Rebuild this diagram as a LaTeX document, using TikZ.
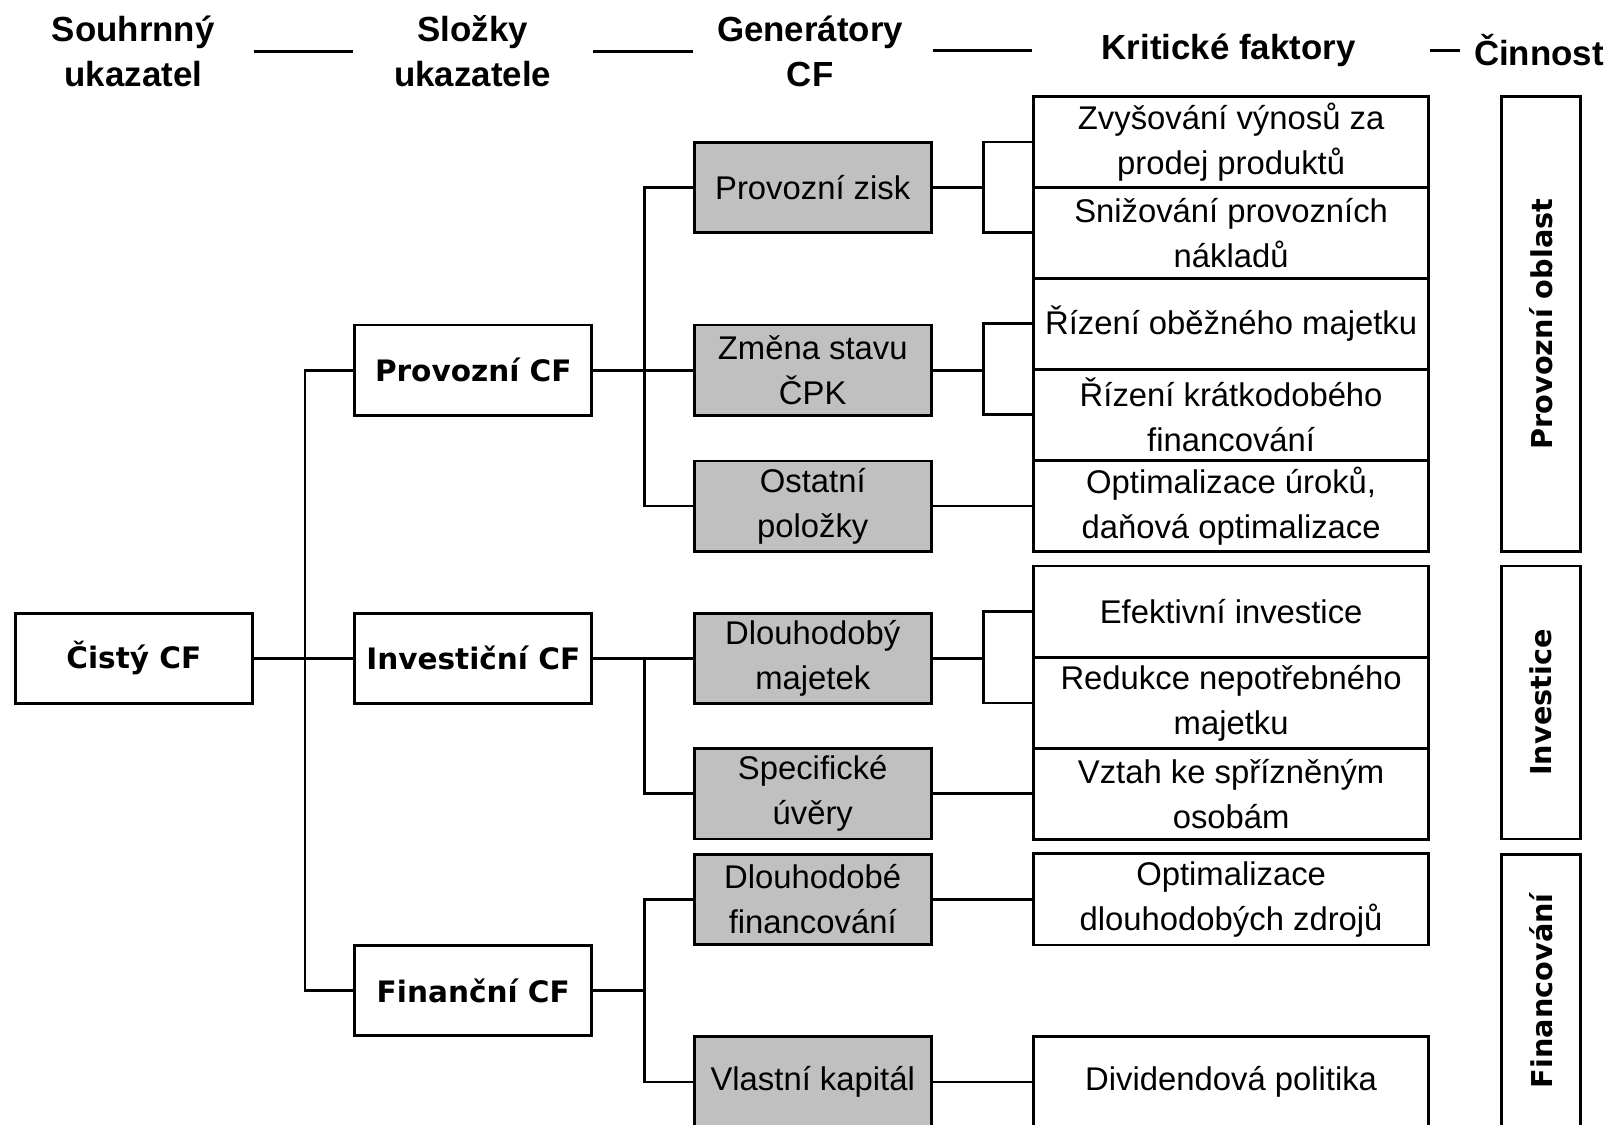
\documentclass[tikz,border=0pt]{standalone}
\usepackage{fontspec}
\setmainfont{Liberation Sans}
\newfontfamily\verdfont{DejaVu Sans}
\definecolor{boxgray}{RGB}{192,192,192}
\tikzset{
	link/.style={line width=1.3pt},
	box/.style={draw, line width=1.3pt, minimum width=115.5pt, minimum height=44pt, inner sep=0pt, align=center, font=\fontsize{16}{22}\selectfont},
	sumbox/.style={box, font=\verdfont\bfseries\fontsize{14.4}{20}\selectfont},
	genbox/.style={box, fill=boxgray},
	factbox/.style={box, minimum width=192.5pt, minimum height=44.5pt},
	areabox/.style={draw, line width=1.3pt, rotate=90, minimum height=38.5pt, inner sep=0pt, font=\verdfont\bfseries\fontsize{14}{18}\selectfont},
	head/.style={align=center, inner sep=0pt, font=\bfseries\fontsize{17}{22}\selectfont}
}
\begin{document}
\begin{tikzpicture}[x=0.5pt, y=-0.5pt]
		\clip (0,0) rectangle (1568,1097);
		% headings
		\node[head] (h1) at (130,50) {Souhrnný\\ukazatel};
		\node[head] (h2) at (461,50) {Složky\\ukazatele};
		\node[head] (h3) at (790,50) {Generátory\\CF};
		\node[head] (h4) at (1198,49) {Kritické faktory};
		\node[head, anchor=west] (h5) at (1437,49) {Činnost};
		% summary and components
		\node[sumbox] (cisty) at (130.5,642) {Čistý CF};
		\node[sumbox] (prov) at (461.5,361) {Provozní CF};
		\node[sumbox] (inv) at (461.5,642) {Investiční CF};
		\node[sumbox] (fin) at (461.5,966) {Finanční CF};
		% generators
		\node[genbox] (zisk) at (792.5,183) {Provozní zisk};
		\node[genbox] (cpk) at (792.5,361) {Změna stavu\\ČPK};
		\node[genbox] (ost) at (792.5,493.5) {Ostatní\\položky};
		\node[genbox] (dm) at (792.5,642) {Dlouhodobý\\majetek};
		\node[genbox] (uver) at (792.5,774) {Specifické\\úvěry};
		\node[genbox] (dfin) at (792.5,877) {Dlouhodobé\\financování};
		\node[genbox] (vk) at (792.5,1055) {Vlastní kapitál};
		% critical factors
		\node[factbox] (f1) at (1200.5,138.5) {Zvyšování výnosů za\\prodej produktů};
		\node[factbox] (f2) at (1200.5,227) {Snižování provozních\\nákladů};
		\node[factbox] (f3) at (1200.5,315.5) {Řízení oběžného majetku};
		\node[factbox] (f4) at (1200.5,404.5) {Řízení krátkodobého\\financování};
		\node[factbox] (f5) at (1200.5,493.5) {Optimalizace úroků,\\daňová optimalizace};
		\node[factbox] (f6) at (1200.5,596.5) {Efektivní investice};
		\node[factbox] (f7) at (1200.5,685.5) {Redukce nepotřebného\\majetku};
		\node[factbox] (f8) at (1200.5,774) {Vztah ke spřízněným\\osobám};
		\node[factbox] (f9) at (1200.5,877) {Optimalizace\\dlouhodobých zdrojů};
		\node[factbox] (f10) at (1200.5,1055) {Dividendová politika};
		% areas
		\node[areabox, minimum width=222pt] (a1) at (1502.5,316) {Provozní oblast};
		\node[areabox, minimum width=133pt] (a2) at (1502.5,685) {Investice};
		\node[areabox, minimum width=133pt] (a3) at (1502.5,966) {Financování};
		% heading rules
		\draw[link] (cisty.east |- h1) -- (prov.west |- h1);
		\draw[link] (prov.east |- h2) -- (zisk.west |- h2);
		\draw[link] (zisk.east |- h4) -- (f1.west |- h4);
		\draw[link] (f1.east |- h4) -- ++(29,0);
		% connectors
		\foreach \t in {prov,inv,fin}
			\draw[link] (cisty.east) -- ++(50,0) |- (\t.west);
		\foreach \p/\g in {prov/zisk,prov/cpk,prov/ost,inv/dm,inv/uver,fin/dfin,fin/vk}
			\draw[link] (\p.east) -- ++(50,0) |- (\g.west);
		\foreach \g/\f in {zisk/f1,zisk/f2,cpk/f3,cpk/f4,ost/f5,dm/f6,dm/f7,uver/f8,dfin/f9,vk/f10}
			\draw[link] (\g.east) -- ++(50,0) |- (\f.west);
	\end{tikzpicture}
\end{document}
